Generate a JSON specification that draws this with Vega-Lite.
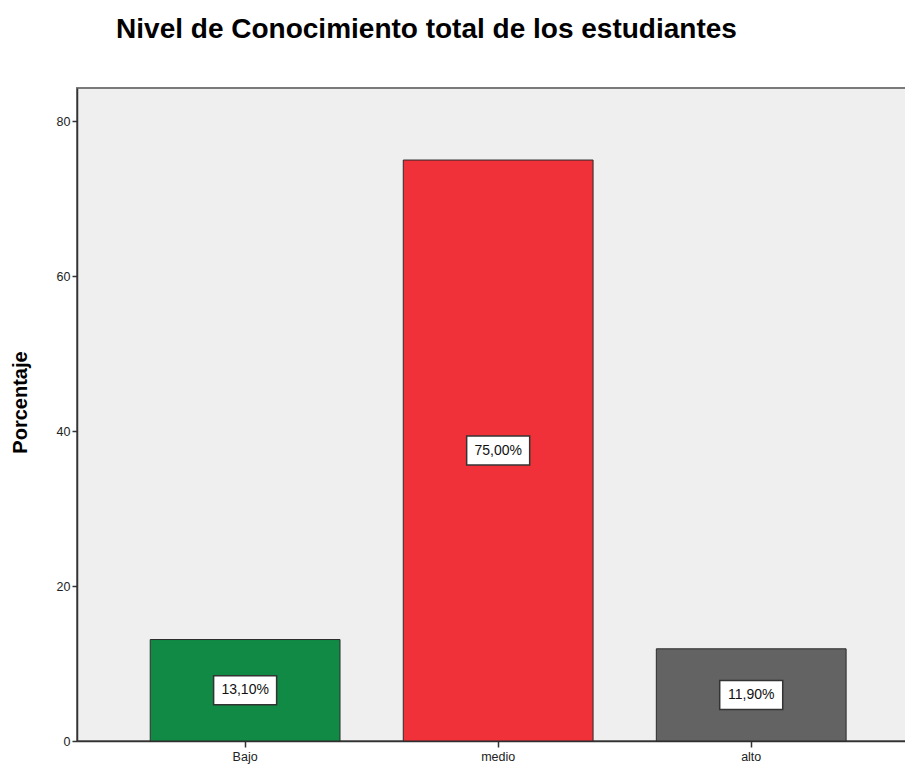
{
  "$schema": "https://vega.github.io/schema/vega-lite/v6.json",
  "autosize": "none",
  "width": 830,
  "height": 653,
  "padding": {"left": 77, "top": 88, "right": 0, "bottom": 31},
  "background": "white",
  "title": {
    "text": "Nivel de Conocimiento total de los estudiantes",
    "anchor": "start",
    "dx": 106,
    "offset": 44,
    "font": "Liberation Sans",
    "fontSize": 28,
    "fontWeight": "bold",
    "color": "#000000"
  },
  "config": {
    "view": {"fill": "#efefef", "stroke": "#7a7a7a", "strokeWidth": 2},
    "font": "Liberation Sans"
  },
  "data": {
    "values": [
      {"nivel": "Bajo", "porcentaje": 13.1, "etiqueta": "13,10%"},
      {"nivel": "medio", "porcentaje": 75.0, "etiqueta": "75,00%"},
      {"nivel": "alto", "porcentaje": 11.9, "etiqueta": "11,90%"}
    ]
  },
  "encoding": {
    "x": {
      "field": "nivel",
      "type": "nominal",
      "sort": ["Bajo", "medio", "alto"],
      "scale": {"paddingInner": 0.25, "paddingOuter": 0.265, "align": 0.546},
      "axis": {
        "title": null,
        "labelAngle": 0,
        "labelFont": "Liberation Sans",
        "labelFontSize": 12.5,
        "labelColor": "#222222",
        "labelPadding": 3,
        "tickSize": 6,
        "tickColor": "#333333",
        "tickWidth": 1.5,
        "domainColor": "#333333",
        "domainWidth": 1.5
      }
    }
  },
  "layer": [
    {
      "mark": {"type": "bar", "stroke": "#2b2b2b", "strokeWidth": 1},
      "encoding": {
        "y": {
          "field": "porcentaje",
          "type": "quantitative",
          "scale": {"domain": [0, 84.3], "nice": false},
          "axis": {
            "title": "Porcentaje",
            "titleFont": "Liberation Sans",
            "titleFontSize": 20,
            "titleFontWeight": "bold",
            "titleColor": "#000000",
            "titlePadding": 26,
            "titleY": 314,
            "values": [0, 20, 40, 60, 80],
            "grid": false,
            "labelFont": "Liberation Sans",
            "labelFontSize": 12.5,
            "labelColor": "#222222",
            "labelPadding": 2,
            "tickSize": 5,
            "tickColor": "#333333",
            "tickWidth": 1.5,
            "domainColor": "#333333",
            "domainWidth": 1.5
          }
        },
        "color": {
          "field": "nivel",
          "type": "nominal",
          "scale": {"domain": ["Bajo", "medio", "alto"], "range": ["#118a45", "#f0313a", "#636363"]},
          "legend": null
        }
      }
    },
    {
      "encoding": {
        "y": {
          "field": "porcentaje",
          "type": "quantitative",
          "scale": {"domain": [0, 168.6], "nice": false},
          "axis": null
        }
      },
      "layer": [
        {
          "mark": {
            "type": "point",
            "shape": "M-1,-0.46L1,-0.46L1,0.46L-1,0.46Z",
            "size": 3969,
            "filled": true,
            "fill": "white",
            "stroke": "#333333",
            "strokeWidth": 1.5,
            "opacity": 1
          }
        },
        {
          "mark": {"type": "text", "font": "Liberation Sans", "fontSize": 14, "color": "#111111", "baseline": "middle"},
          "encoding": {
            "text": {"field": "etiqueta"}
          }
        }
      ]
    }
  ],
  "resolve": {"scale": {"y": "independent"}}
}
